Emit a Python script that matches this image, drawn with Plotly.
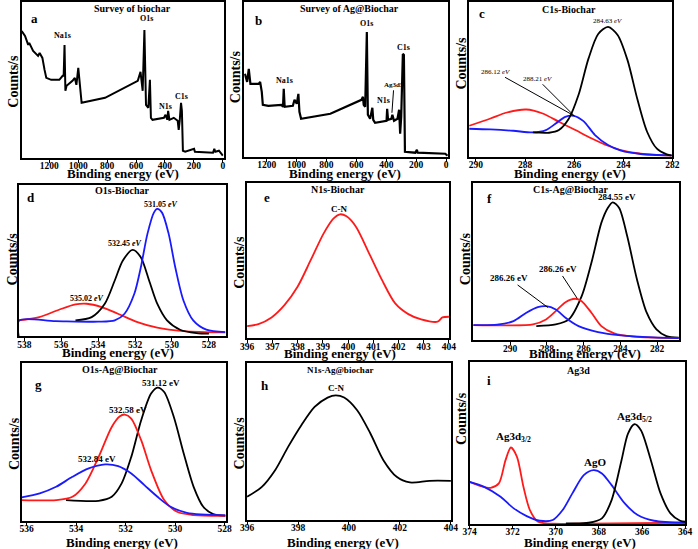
import plotly.graph_objects as go

W, H = 698, 549

# ---------------- data (binding energy in eV, intensity in arbitrary counts) ----------------
# (a) survey of biochar
a_be = [1390, 1367, 1345, 1338, 1311, 1277, 1266, 1247, 1232, 1220, 1186, 1130, 1107, 1100, 1094, 1088,
        1080, 1039, 1023, 1012, 999, 990, 976, 814, 588, 569, 554, 542, 531, 515, 504, 497, 486, 407,
        396, 384, 378, 369, 339, 312, 305, 298, 289, 283, 276, 260, 199, 193, 68, 59, 52, 27, 0]
a_cnt = [127, 122, 113, 115, 107, 102, 105, 100, 88, 80, 78, 78, 82, 82, 113, 67,
         72, 77, 80, 73, 90, 73, 55, 60, 77, 86, 67, 128, 53, 50, 78, 40, 38, 40,
         43, 38, 47, 38, 40, 37, 28, 37, 55, 47, 7, 6, 9, 6, 5, 9, 6, 7, 2]

# (b) survey of Ag@Biochar
b_be = [1346, 1331, 1320, 1309, 1254, 1244, 1233, 1226, 1189, 1102, 1091, 1086, 1080, 1025, 1014, 999,
        988, 981, 970, 774, 566, 556, 551, 541, 530, 523, 508, 493, 487, 475, 398, 394, 388, 366,
        359, 348, 325, 314, 307, 300, 289, 282, 275, 206, 195, 190, 5, -10]
b_cnt = [83, 75, 88, 73, 73, 75, 65, 52, 51, 52, 50, 68, 50, 51, 57, 53,
         63, 45, 38, 43, 57, 60, 52, 50, 125, 42, 38, 49, 37, 34, 36, 48, 37, 38,
         42, 36, 38, 47, 23, 40, 103, 102, 5, 4, 7, 4, 3, 1]

# (c) C1s-Biochar
c_black_be = [287.68, 287.02, 286.62, 286.22, 285.82, 285.42, 285.02, 284.62, 284.23, 283.83, 283.43, 283.03, 282.63, 282.23, 282.03]
c_black = [24.3, 24, 26.7, 38, 62, 98, 123, 130, 122, 97, 58, 25, 8, 2.3, 1]
c_blue_be = [290.27, 289.41, 288.48, 287.68, 287.15, 286.75, 286.36, 286.02, 285.62, 285.15, 284.62, 284.09, 283.29, 282.03]
c_blue = [28, 27.3, 26, 24.3, 26.7, 33.3, 40, 41, 35.7, 21.7, 11.7, 6, 2.7, 1.3]
c_red_be = [290.27, 289.41, 288.74, 287.95, 287.28, 286.62, 285.95, 285.28, 284.62, 283.83, 283.03, 282.03]
c_red = [31, 38.3, 44.3, 47.3, 43.3, 35, 26.7, 18.3, 11, 5, 2.3, 1]

# (d) O1s-Biochar
d_blue_be = [538.3, 538.28, 536.3, 534.0, 533.1, 532.57, 532.04, 531.69, 531.33, 530.98, 530.80, 530.54,
             530.18, 529.82, 529.38, 528.85, 528.14, 527.11]
d_blue = [0, 16, 15.3, 14.7, 16, 22.7, 42.7, 69, 102.7, 124, 127.7, 124, 102.7, 69, 36, 16, 6.7, 4.3]
d_black_be = [535.23, 534.35, 533.64, 533.1, 532.66, 532.13, 531.69, 531.24, 530.80, 530.27, 529.56, 528.67, 528.0]
d_black = [16, 19.3, 32.7, 56, 76, 86.7, 79.3, 56, 32.7, 16, 6.7, 3.3, 2.7]
d_red_be = [538.3, 537.19, 536.12, 535.23, 534.61, 533.81, 532.93, 531.87, 530.80, 529.38, 527.11]
d_red = [16, 19.3, 26.7, 32, 32.7, 29.3, 22.7, 14.3, 8.7, 5.3, 4]

# (e) N1s-Biochar
e_be = [396.0, 396.45, 396.97, 397.48, 398.0, 398.52, 399.03, 399.42, 399.68, 399.94, 400.32, 400.84,
        401.35, 401.87, 402.39, 402.9, 403.55, 403.74, 404.0]
e_cnt = [12.3, 14.3, 21, 33.3, 51.7, 78.3, 105, 120, 124.3, 122.3, 111.7, 85, 58.3, 35, 24.3, 19, 16.7, 21, 21.7]

# (f) C1s-Ag@Biochar
f_black_be = [288.58, 287.52, 286.81, 286.11, 285.58, 285.04, 284.69, 284.42, 284.07, 283.63, 283.10, 282.57, 282.04, 281.5, 280.83]
f_black = [14.3, 16, 21, 44.3, 77.7, 117.7, 132.7, 138.3, 132.7, 104.3, 61, 27.7, 11, 4.3, 2.7]
f_red_be = [292.04, 290.18, 288.76, 288.05, 287.52, 286.99, 286.46, 286.11, 285.58, 285.04, 284.34, 283.27, 280.83]
f_red = [15.3, 15, 16, 21, 29.3, 38.3, 41.7, 39.3, 27.7, 14.3, 7, 3.7, 2.3]
f_blue_be = [292.04, 290.71, 289.82, 289.12, 288.5, 288.05, 287.52, 286.99, 286.28, 285.22, 283.98, 282.21, 280.83]
f_blue = [15.3, 15.7, 19.3, 27.7, 33.3, 34.3, 31, 22.7, 14.3, 8.3, 5, 3, 2.3]

# (g) O1s-Ag@Biochar
g_black_be = [534.41, 533.09, 532.56, 532.16, 531.77, 531.37, 530.97, 530.71, 530.44, 530.05, 529.65, 529.25, 528.86, 528.46, 527.96]
g_black = [21, 20.3, 24.3, 37.7, 64.3, 101, 127.7, 133.7, 129.3, 104.3, 67.7, 34.3, 14.3, 7, 5.3]
g_red_be = [536.2, 534.81, 534.15, 533.62, 533.09, 532.56, 532.23, 532.03, 531.77, 531.37, 530.97, 530.44, 529.92, 529.25, 527.96]
g_red = [21, 21, 24.3, 37.7, 64.3, 94.3, 105, 106.7, 102.7, 81, 51, 21, 9.3, 6, 5.3]
g_blue_be = [536.2, 535.47, 534.81, 534.15, 533.49, 532.83, 532.3, 531.77, 531.24, 530.71, 530.18, 529.52, 527.96]
g_blue = [23.7, 27.7, 34.3, 44.3, 52.7, 56.7, 55, 47.7, 36, 24.3, 14.3, 8.3, 5.7]

# (h) N1s-Ag@biochar
h_be = [396.0, 396.58, 397.1, 397.61, 398.13, 398.65, 399.16, 399.48, 399.81, 400.32, 400.84, 401.35,
        401.87, 402.39, 403.16, 404.0]
h_cnt = [23.3, 33.3, 50, 73.3, 95, 113.3, 122.7, 125, 122.7, 110, 86.7, 60, 43.3, 37.7, 39.3, 39.3]

# (i) Ag3d
i_red_be = [374.0, 373.47, 373.02, 372.64, 372.33, 372.08, 371.8, 371.5, 371.2, 370.82, 370.14, 368.47, 364.0]
i_red = [42.3, 38, 36.3, 40.7, 64, 76.7, 67.3, 37.3, 14, 2.3, 0.3, 0.5, 1.3]
i_blue_be = [374.0, 373.32, 372.56, 371.95, 371.35, 370.74, 370.14, 369.68, 369.23, 368.7, 368.24, 367.86,
             367.41, 366.8, 366.2, 365.44, 364.0]
i_blue = [42.3, 37.3, 27.3, 15.7, 8, 3.3, 4, 14, 30.7, 49, 54, 50.7, 39, 20.7, 9, 3.3, 1.3]
i_black_be = [369.53, 368.47, 367.86, 367.41, 366.95, 366.65, 366.35, 366.05, 365.59, 365.14, 364.68, 364.23, 364.0]
i_black = [0.7, 1.3, 5.7, 24, 64, 90.7, 100, 94, 64, 30.7, 10.7, 3.3, 2.3]

# ---------------- layout helpers ----------------
SERIF = "Liberation Serif, Times New Roman, serif"
BLACK, RED, BLUE = "#000000", "#ff1a1a", "#1a1aff"

# panel boxes in pixels (left, top, right, bottom)
boxes = {
    1: (15, 1, 221, 157), 2: (242, 1, 450, 156), 3: (471, 1, 679, 156),
    4: (12, 184, 223, 336), 5: (245, 182, 451, 338), 6: (476, 182, 686, 340),
    7: (15, 363, 223, 521), 8: (245, 363, 453, 520), 9: (472, 362, 692, 524),
}
xranges = {1: [1390, -5], 2: [1351, -13], 3: [290.3, 282], 4: [538.3, 527.1], 5: [396, 404],
           6: [292.0, 280.8], 7: [536.2, 527.96], 8: [396, 404], 9: [374, 364]}
xticks = {1: list(range(0, 1201, 200)), 2: list(range(0, 1201, 200)), 3: [282, 284, 286, 288, 290],
          4: [528, 530, 532, 534, 536, 538], 5: list(range(396, 405)), 6: [282, 284, 286, 288, 290],
          7: [528, 530, 532, 534, 536], 8: [396, 398, 400, 402, 404], 9: [364, 366, 368, 370, 372, 374]}
# axis-title anchor points (px): x title centre, y title centre
xtitle_pos = {1: (118, 173), 2: (345, 173), 3: (575, 173), 4: (113, 352), 5: (340, 353),
              6: (590, 353), 7: (117, 542), 8: (343, 542), 9: (585, 542)}
ytitle_pos = {1: (7, 80), 2: (234, 76), 3: (464, 62), 4: (6, 258), 5: (237, 262),
              6: (468, 258), 7: (7, 443), 8: (237, 443), 9: (464, 418)}

fig = go.Figure()

def add(idx, x, y, color, shape="spline", width=1.8):
    sfx = "" if idx == 1 else str(idx)
    line = dict(color=color, width=width, shape=shape)
    if shape == "spline":
        line["smoothing"] = 0.8
    fig.add_trace(go.Scatter(x=x, y=y, mode="lines", xaxis="x" + sfx, yaxis="y" + sfx,
                             line=line, showlegend=False, hoverinfo="skip"))

add(1, a_be, a_cnt, BLACK, "linear", 2)
add(2, b_be, b_cnt, BLACK, "linear", 2.2)
add(3, c_red_be, c_red, RED)
add(3, c_blue_be, c_blue, BLUE)
add(3, c_black_be, c_black, BLACK)
add(4, d_red_be, d_red, RED)
add(4, d_black_be, d_black, BLACK)
add(4, d_blue_be, d_blue, BLUE)
add(5, e_be, e_cnt, RED)
add(6, f_black_be, f_black, BLACK)
add(6, f_red_be, f_red, RED)
add(6, f_blue_be, f_blue, BLUE)
add(7, g_black_be, g_black, BLACK)
add(7, g_red_be, g_red, RED)
add(7, g_blue_be, g_blue, BLUE)
add(8, h_be, h_cnt, BLACK)
add(9, i_red_be, i_red, RED)
add(9, i_blue_be, i_blue, BLUE)
add(9, i_black_be, i_black, BLACK)

layout = dict(width=W, height=H, margin=dict(l=0, r=0, t=0, b=0),
              paper_bgcolor="white", plot_bgcolor="white",
              font=dict(family=SERIF, color="black"))
for idx, (l, t, r, b) in boxes.items():
    sfx = "" if idx == 1 else str(idx)
    layout["xaxis" + sfx] = dict(
        domain=[l / W, r / W], anchor="y" + sfx, range=xranges[idx], tickvals=xticks[idx],
        showline=True, mirror=True, linecolor="black", linewidth=2, ticks="outside",
        ticklen=3, tickwidth=1.2, tickcolor="black", showgrid=False, zeroline=False,
        ticklabelstandoff=-5,
        tickfont=dict(family=SERIF, size=9.5, weight="bold"))
    layout["yaxis" + sfx] = dict(
        domain=[1 - b / H, 1 - t / H], anchor="x" + sfx, range=[0, b - t],
        showline=True, mirror=True, linecolor="black", linewidth=2, showticklabels=False,
        ticks="", showgrid=False, zeroline=False)
fig.update_layout(**layout)

def txt(text, px, py, size=9, bold=True, angle=0):
    fig.add_annotation(x=px / W, y=1 - py / H, xref="paper", yref="paper", text=text,
                       showarrow=False, xanchor="center", yanchor="middle", textangle=angle,
                       font=dict(family=SERIF, size=size, color="black",
                                 weight="bold" if bold else "normal"))

def arrow(text, idx, x, y, ax, ay, size=9, bold=True):
    sfx = "" if idx == 1 else str(idx)
    fig.add_annotation(x=x, y=y, xref="x" + sfx, yref="y" + sfx, text=text, showarrow=True,
                       arrowhead=0, arrowwidth=1, arrowcolor="black", ax=ax, ay=ay,
                       font=dict(family=SERIF, size=size, color="black",
                                 weight="bold" if bold else "normal"))

# axis titles
for idx in boxes:
    txt("Binding energy (eV)", *xtitle_pos[idx], size=13)
    txt("Counts/s", *ytitle_pos[idx], size=14, angle=-90)

# panel titles and letters
txt("Survey of biochar", 128, 8, 10)
txt("a", 28, 18, 13)
txt("Survey of Ag@Biochar", 350, 8, 10)
txt("b", 257, 20, 13)
txt("C1s-Biochar", 573, 9, 10)
txt("c", 485, 13, 13)
txt("O1s-Biochar", 117, 190, 10)
txt("d", 25, 197, 13)
txt("N1s-Biochar", 338, 189, 10)
txt("e", 265, 197, 13)
txt("C1s-Ag@Biochar", 575, 189, 10)
txt("f", 492, 198, 13)
txt("O1s-Ag@Biochar", 115, 369, 10)
txt("g", 32, 384, 13)
txt("N1s-Ag@biochar", 340, 370, 9)
txt("h", 263, 385, 13)
txt("Ag3d", 583, 370, 10)
txt("i", 492, 380, 13)

# survey peak labels
txt("Na1s", 57, 35, 8)
txt("O1s", 142, 18, 8)
txt("N1s", 162, 106, 8)
txt("C1s", 178, 96, 8)
txt("Na1s", 283, 80, 8)
txt("O1s", 367, 23, 8)
txt("C1s", 405, 47, 8)
txt("N1s", 384, 100, 8)
arrow("Ag3d5", 2, 362, 44, 2, -28, 7)

# C1s-Biochar labels
txt("284.63 <i>eV</i>", 613, 20, 7, bold=False)
arrow("286.12 <i>eV</i>", 3, 286.0, 41, -79, -44, 7, bold=False)
arrow("288.21 <i>eV</i>", 3, 286.0, 41, -37, -37, 7, bold=False)

# O1s-Biochar labels
txt("531.05 <i>eV</i>", 157, 204, 8)
txt("532.45 <i>eV</i>", 120, 243, 8)
txt("535.02 <i>eV</i>", 82, 298, 8)

txt("C-N", 339, 208, 9)
txt("C-N", 336, 388, 9)

# C1s-Ag@Biochar labels
txt("284.55 eV", 622, 196, 9)
arrow("286.26 eV", 6, 286.35, 42, -19, -29, 9)
arrow("286.26 eV", 6, 287.95, 33, -39, -29, 9)

# O1s-Ag@Biochar labels
txt("531.12 eV", 157, 383, 9)
txt("532.58 eV", 123, 410, 9)
txt("532.84 eV", 92, 459, 9)

# Ag3d labels
txt("Ag3d<sub>3/2</sub>", 517, 437, 11)
txt("AgO", 600, 462, 11)
txt("Ag3d<sub>5/2</sub>", 640, 417, 11)

fig.write_html(
    "out.html",
    config={"displayModeBar": False},
    post_script=("document.documentElement.style.margin='0';document.body.style.margin='0';"
                 "document.body.style.padding='0';document.documentElement.style.overflow='hidden';"
                 "document.body.style.overflow='hidden';"),
)
